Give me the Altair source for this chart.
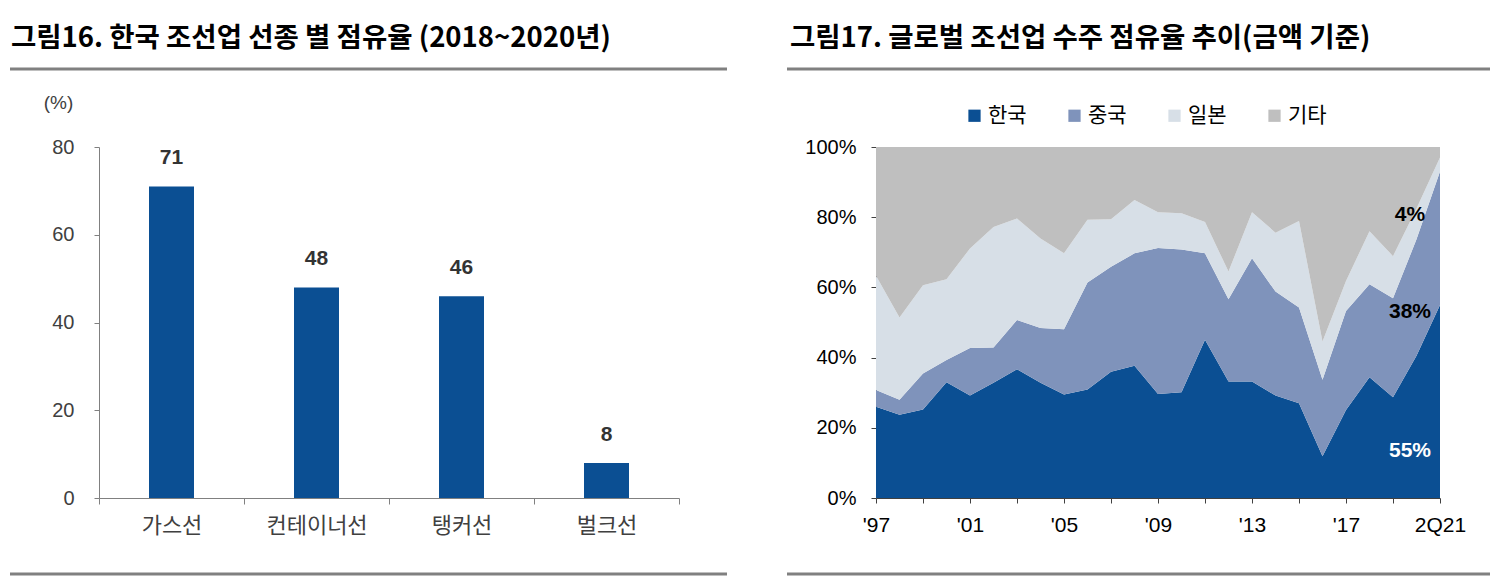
import json
import altair as alt
import pandas as pd

# ---------------- data ----------------
title_left = "그림16. 한국 조선업 선종 별 점유율 (2018~2020년)"
title_right = "그림17. 글로벌 조선업 수주 점유율 추이(금액 기준)"

ship_types = ["가스선", "컨테이너선", "탱커선", "벌크선"]
ship_shares = [71, 48, 46, 8]

periods = ["'97", "'98", "'99", "'00", "'01", "'02", "'03", "'04", "'05", "'06",
           "'07", "'08", "'09", "'10", "'11", "'12", "'13", "'14", "'15", "'16",
           "'17", "'18", "'19", "'20", "2Q21"]
korea = [26.0, 23.7, 25.2, 33.0, 29.2, 32.8, 36.7, 32.8, 29.5, 30.9, 36.0, 37.7,
         29.6, 30.1, 45.1, 33.2, 33.2, 29.2, 27.0, 11.9, 25.1, 34.4, 28.7, 40.5, 55.0]
china = [4.8, 4.3, 10.3, 6.3, 13.5, 10.1, 14.0, 15.6, 18.6, 30.5, 29.9, 32.0,
         41.6, 40.7, 24.6, 23.4, 35.1, 29.6, 27.3, 21.8, 28.2, 26.5, 28.2, 33.2, 38.0]
japan = [32.5, 23.4, 25.1, 23.0, 28.4, 34.3, 28.9, 25.5, 21.6, 17.9, 13.5, 15.2,
         10.2, 10.3, 8.9, 7.9, 13.1, 16.8, 24.6, 10.9, 8.5, 15.1, 12.0, 8.8, 4.0]
others = [36.7, 48.6, 39.4, 37.7, 28.9, 22.8, 20.4, 26.1, 30.3, 20.7, 20.6, 15.1,
          18.6, 18.9, 21.4, 35.5, 18.6, 24.4, 21.1, 55.4, 38.2, 24.0, 31.1, 17.5, 3.0]
countries = ["한국", "중국", "일본", "기타"]
country_colors = ["#0B4F93", "#7F93BB", "#D7DFE7", "#BFBFBF"]

end_labels = ["55%", "38%", "4%"]
end_label_levels = [13.5, 53.0, 80.5]

# ---------------- styling ----------------
NUM_FONT = "Liberation Sans Narrow, Arial Narrow, Liberation Sans, sans-serif"
KR_FONT = "Noto Sans CJK KR"
W_L, W_R, H = 580, 564, 351

# ---------------- left: bar chart ----------------
bar_df = pd.DataFrame({"type": ship_types, "share": ship_shares})

bx = alt.X("type:N", sort=ship_types,
           scale=alt.Scale(paddingInner=0, paddingOuter=0),
           axis=alt.Axis(title=None, labelAngle=0, labelFont=KR_FONT, labelFontSize=22,
                         labelColor="#404040", labelPadding=11, tickBand="extent",
                         tickSize=6, tickColor="#808080", domainColor="#808080"))
by = alt.Y("share:Q", scale=alt.Scale(domain=[0, 80]),
           axis=alt.Axis(values=[0, 20, 40, 60, 80], grid=False, title="(%)",
                         titleAngle=0, titleX=-41, titleY=-45, titleAlign="center",
                         titleBaseline="middle", titleFont=NUM_FONT, titleFontSize=19,
                         titleFontWeight="normal", titleColor="#404040",
                         labelFont=NUM_FONT, labelFontSize=20, labelColor="#404040",
                         labelPadding=20, tickSize=5, tickColor="#808080",
                         domainColor="#808080"))

bars = alt.Chart(bar_df).mark_bar(size=45, color="#0B4F93").encode(x=bx, y=by)
bar_text = alt.Chart(bar_df).mark_text(baseline="bottom", dy=-18, fontWeight="bold",
                                       fontSize=21, font=NUM_FONT, color="#333333").encode(
    x=alt.X("type:N", sort=ship_types), y="share:Q", text="share:Q")

one = pd.DataFrame({"t": [title_left]})
left_title = alt.Chart(one).mark_text(align="left", baseline="middle", fontSize=27.5,
                                      fontWeight="bold", font=KR_FONT, color="#000000").encode(
    text="t:N", x=alt.value(-88), y=alt.value(-108))
left_rule_top = alt.Chart(one).mark_rule(color="#808080", strokeWidth=3).encode(
    x=alt.value(-89), x2=alt.value(628), y=alt.value(-78))
left_rule_bot = alt.Chart(one).mark_rule(color="#808080", strokeWidth=3).encode(
    x=alt.value(-89), x2=alt.value(628), y=alt.value(427))

left = alt.layer(bars, bar_text, left_title, left_rule_top, left_rule_bot).properties(
    width=W_L, height=H)

# ---------------- right: stacked area ----------------
rows = []
series = [korea, china, japan, others]
for k, (name, vals) in enumerate(zip(countries, series)):
    for i, v in enumerate(vals):
        rows.append({"idx": i, "period": periods[i], "country": name, "k": k, "value": v})
area_df = pd.DataFrame(rows)

tick_idx = list(range(0, len(periods), 2))
tick_labels = [periods[i] if i % 4 == 0 else "" for i in tick_idx]
label_expr = json.dumps(tick_labels) + "[datum.value / 2]"

ax = alt.X("idx:Q", scale=alt.Scale(domain=[0, len(periods) - 1], nice=False, zero=False),
           axis=alt.Axis(title=None, values=tick_idx, labelExpr=label_expr, grid=False,
                         labelFont=NUM_FONT, labelFontSize=21, labelColor="#000000",
                         labelPadding=11, tickSize=5, tickColor="#404040",
                         domainColor="#404040", labelFlush=False))
ay = alt.Y("value:Q", stack="zero", scale=alt.Scale(domain=[0, 100]),
           axis=alt.Axis(title=None, values=[0, 20, 40, 60, 80, 100],
                         labelExpr="datum.value + '%'", grid=False,
                         labelFont=NUM_FONT, labelFontSize=20, labelColor="#000000",
                         labelPadding=15, tickSize=5, tickColor="#404040",
                         domainColor="#404040"))

area = alt.Chart(area_df).mark_area(interpolate="linear").encode(
    x=ax, y=ay,
    color=alt.Color("country:N", scale=alt.Scale(domain=countries, range=country_colors),
                    legend=alt.Legend(title=None, orient="none", legendX=865, legendY=-42,
                                      direction="horizontal", symbolType="square",
                                      symbolSize=150, symbolStrokeWidth=0,
                                      labelFont=KR_FONT, labelFontSize=21,
                                      labelColor="#000000", labelOffset=3,
                                      columnPadding=37)),
    order=alt.Order("k:Q", sort="ascending"),
)

ann_df = pd.DataFrame({"idx": [len(periods) - 1] * len(end_labels),
                       "level": end_label_levels, "label": end_labels})
ann = alt.Chart(ann_df).mark_text(align="center", baseline="middle", dx=-30, fontSize=21,
                                  fontWeight="bold", font=NUM_FONT).encode(
    x="idx:Q", y="level:Q", text="label:N",
    color=alt.condition(alt.datum.label == "55%", alt.value("#FFFFFF"), alt.value("#000000")))

one_r = pd.DataFrame({"t": [title_right]})
right_title = alt.Chart(one_r).mark_text(align="left", baseline="middle", fontSize=27.5,
                                         fontWeight="bold", font=KR_FONT, color="#000000").encode(
    text="t:N", x=alt.value(-86), y=alt.value(-108))
right_rule_top = alt.Chart(one_r).mark_rule(color="#808080", strokeWidth=3).encode(
    x=alt.value(-89), x2=alt.value(614), y=alt.value(-78))
right_rule_bot = alt.Chart(one_r).mark_rule(color="#808080", strokeWidth=3).encode(
    x=alt.value(-89), x2=alt.value(614), y=alt.value(427))

right = alt.layer(area, ann, right_title, right_rule_top, right_rule_bot).properties(
    width=W_R, height=H)

chart = alt.hconcat(left, right, spacing=56).properties(
    padding={"top": 17, "left": 0, "right": 0, "bottom": 0}
).configure(background="#FFFFFF").configure_view(strokeWidth=0, stroke="transparent")

chart.save("out.html", embed_options={"renderer": "svg", "actions": False})
